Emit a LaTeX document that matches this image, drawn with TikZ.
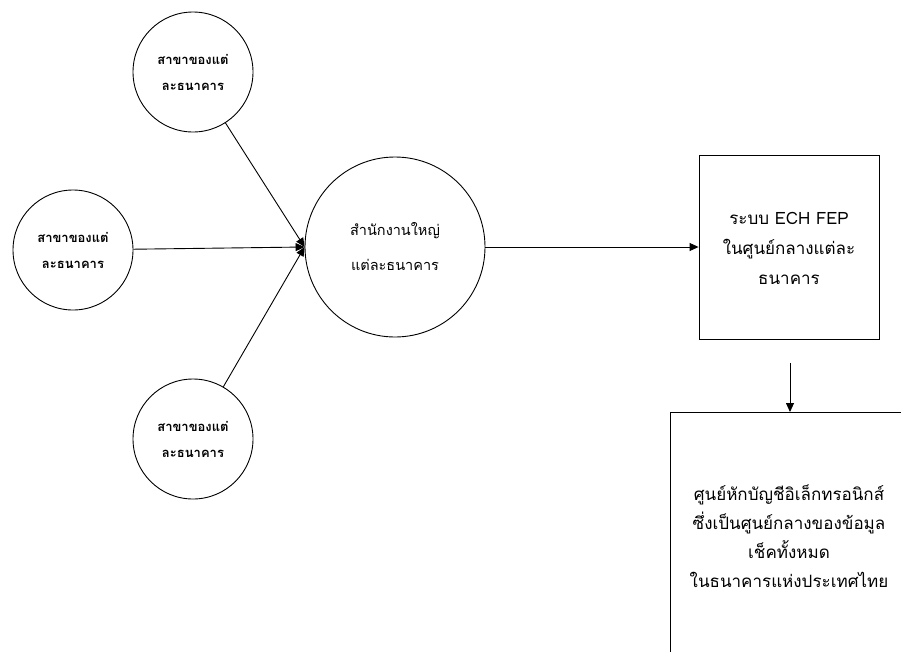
\documentclass[tikz,border=0pt]{standalone}
\usepackage{fontspec}
\newfontfamily\thaifont[Script=Thai]{Loma}
\usetikzlibrary{arrows.meta}
\begin{document}
\begin{tikzpicture}[x=1pt,y=-1pt,
  branch/.style={circle,draw,line width=0.9pt,minimum size=120pt,inner sep=0pt,
    align=center,font={\thaifont\bfseries\fontsize{13}{26}\selectfont}},
  hub/.style={circle,draw,line width=0.9pt,minimum size=180pt,inner sep=0pt,
    align=center,font={\thaifont\fontsize{14.5}{35}\selectfont}},
  boxnode/.style={rectangle,draw,line width=0.9pt,inner sep=0pt},
  boxtext/.style={align=center,font={\thaifont\fontsize{17}{29}\selectfont}},
  link/.style={line width=0.9pt,-{Triangle[length=9pt,width=8pt]}}]
\useasboundingbox (0,0) rectangle (901,651);
\clip (0,0) rectangle (901,651);
\fill[white] (0,0) rectangle (901,651);

% branch offices and head office
\node[branch] (top)  at (193,72)  {สาขาของแต่\\ละธนาคาร};
\node[branch] (left) at (73,250)  {สาขาของแต่\\ละธนาคาร};
\node[branch] (bot)  at (193,439) {สาขาของแต่\\ละธนาคาร};
\node[hub]    (main) at (395,247) {สำนักงานใหญ่\\แต่ละธนาคาร};

% ECH FEP system
\node[boxnode,minimum width=180pt,minimum height=184pt] (fep) at (789,247) {};
\node[boxtext,font={\thaifont\fontsize{17}{30}\selectfont}] (feptext) at (789,248)
  {ระบบ ECH FEP\\ในศูนย์กลางแต่ละ\\ธนาคาร};

% clearing centre (runs past the page edge)
\node[boxnode,anchor=north west,minimum width=260pt,minimum height=300pt] (ecc) at (670,412) {};
\node[boxtext] (ecctext) at (789,536)
  {ศูนย์หักบัญชีอิเล็กทรอนิกส์\\ซึ่งเป็นศูนย์กลางของข้อมูล\\เช็คทั้งหมด\\ในธนาคารแห่งประเทศไทย};

% connectors
\draw[link] (top)  -- (main.west);
\draw[link] (left) -- (main.west);
\draw[link] (bot)  -- (main.west);
\draw[link] (main) -- (fep);
\coordinate (down) at (790,363);
\draw[link] (down) -- (down |- ecc.north);
\end{tikzpicture}
\end{document}
